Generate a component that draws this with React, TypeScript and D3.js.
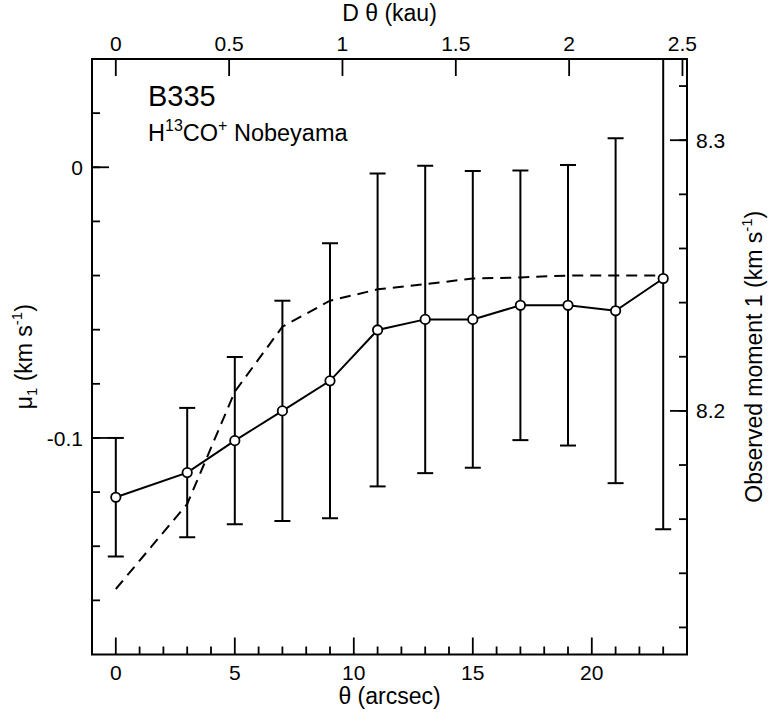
import React from 'react';
import * as d3 from 'd3';

// offsets from the B335 centre (arcsec)
const theta = [0, 3, 5, 7, 9, 11, 13, 15, 17, 19, 21, 23];
// observed mu_1 (km/s) and its error
const mu1 = [-0.1219, -0.1128, -0.101, -0.09, -0.0789, -0.0601, -0.0562, -0.0562, -0.051, -0.051, -0.053, -0.0411];
const mu1Err = [0.0219, 0.0239, 0.0309, 0.0407, 0.0508, 0.0578, 0.0568, 0.0548, 0.0498, 0.0518, 0.0637, 0.0926];
// model curve (dashed)
const model = [-0.1558, -0.1244, -0.0829, -0.0589, -0.0493, -0.0451, -0.0432, -0.0411, -0.0407, -0.04, -0.04, -0.04];

const distPc = 105; // kau per arcsec = distPc / 1000
const vOffset = 8.29; // observed moment 1 = mu_1 + offset

const xMajor = [0, 5, 10, 15, 20];
const xMinor = d3.range(0, 24);
const kauTicks = [0, 0.5, 1, 1.5, 2, 2.5];
const kauLabels = ['0', '0.5', '1', '1.5', '2', '2.5'];
const yMajor = [0, -0.1];
const yLabels = ['0', '-0.1'];
const yMinor = d3.range(-8, 2).map(i => i * 0.02);
const rMajor = [8.2, 8.3];
const rLabels = ['8.2', '8.3'];
const rMinor = d3.range(1, 12).map(i => 8.1 + i * 0.02);

const W = 770;
const H = 714;
const m = { left: 92, right: 687, top: 59, bottom: 654.5 };
const font = '"Liberation Sans", Arial, Helvetica, sans-serif';

export default function App() {
  const x = d3.scaleLinear().domain([-1, 24]).range([m.left, m.right]);
  const xTop = d3.scaleLinear().domain([-1 * distPc / 1000, 24 * distPc / 1000]).range([m.left, m.right]);
  const y = d3.scaleLinear().domain([-0.18, 0.04]).range([m.bottom, m.top]);
  const yR = d3.scaleLinear().domain([-0.18 + vOffset, 0.04 + vOffset]).range([m.bottom, m.top]);

  const pts = theta.map((t, i) => ({ t, v: mu1[i], e: mu1Err[i], mdl: model[i] }));
  const obsLine = d3.line<any>().x(d => x(d.t)).y(d => y(d.v));
  const mdlLine = d3.line<any>().x(d => x(d.t)).y(d => y(d.mdl));

  const big = 17;
  const small = 8;
  const cx = (m.left + m.right) / 2;
  const cy = (m.top + m.bottom) / 2;

  return (
    <svg width={W} height={H} style={{ position: 'absolute', left: 0, top: 0, background: '#fff' }}
      fontFamily={font}>
      <defs>
        <clipPath id="plot">
          <rect x={m.left} y={m.top} width={m.right - m.left} height={m.bottom - m.top} />
        </clipPath>
      </defs>

      {/* ticks */}
      <g stroke="#000" strokeWidth={1.8}>
        {xMinor.map(t => (
          <line key={'xm' + t} x1={x(t)} x2={x(t)} y1={m.bottom} y2={m.bottom - (xMajor.includes(t) ? big : small)} />
        ))}
        {kauTicks.map(k => (
          <line key={'k' + k} x1={xTop(k)} x2={xTop(k)} y1={m.top} y2={m.top + big} />
        ))}
        {yMinor.map(v => (
          <line key={'ym' + v} x1={m.left} x2={m.left + small} y1={y(v)} y2={y(v)} />
        ))}
        {yMajor.map(v => (
          <line key={'yM' + v} x1={m.left} x2={m.left + big} y1={y(v)} y2={y(v)} />
        ))}
        {rMinor.map(v => (
          <line key={'rm' + v} x1={m.right} x2={m.right - small} y1={yR(v)} y2={yR(v)} />
        ))}
        {rMajor.map(v => (
          <line key={'rM' + v} x1={m.right} x2={m.right - big} y1={yR(v)} y2={yR(v)} />
        ))}
      </g>

      {/* tick labels */}
      <g fontSize={21} fill="#000">
        {xMajor.map(t => (
          <text key={'xl' + t} x={x(t)} y={680} textAnchor="middle">{t}</text>
        ))}
        {kauTicks.map((k, i) => (
          <text key={'kl' + k} x={xTop(k)} y={51} textAnchor="middle">{kauLabels[i]}</text>
        ))}
        {yMajor.map((v, i) => (
          <text key={'yl' + v} x={m.left - 9} y={y(v)} dy="0.36em" textAnchor="end">{yLabels[i]}</text>
        ))}
        {rMajor.map((v, i) => (
          <text key={'rl' + v} x={m.right + 9} y={yR(v)} dy="0.36em" textAnchor="start">{rLabels[i]}</text>
        ))}
      </g>

      {/* data */}
      <g clipPath="url(#plot)">
        <path d={mdlLine(pts) || ''} fill="none" stroke="#000" strokeWidth={2} strokeDasharray="11,7" />
        <path d={obsLine(pts) || ''} fill="none" stroke="#000" strokeWidth={2} />
        {pts.map(p => (
          <g key={'e' + p.t} stroke="#000" strokeWidth={2}>
            <line x1={x(p.t)} x2={x(p.t)} y1={y(p.v + p.e)} y2={y(p.v - p.e)} />
            <line x1={x(p.t) - 8} x2={x(p.t) + 8} y1={y(p.v + p.e)} y2={y(p.v + p.e)} />
            <line x1={x(p.t) - 8} x2={x(p.t) + 8} y1={y(p.v - p.e)} y2={y(p.v - p.e)} />
          </g>
        ))}
        {pts.map(p => (
          <circle key={'c' + p.t} cx={x(p.t)} cy={y(p.v)} r={4.7} fill="#fff" stroke="#000" strokeWidth={1.8} />
        ))}
      </g>

      {/* frame */}
      <rect x={m.left} y={m.top} width={m.right - m.left} height={m.bottom - m.top}
        fill="none" stroke="#000" strokeWidth={2} />

      {/* annotations */}
      <text x={148} y={106} fontSize={29}>B335</text>
      <text x={148} y={141} fontSize={23.5}>
        H<tspan fontSize={16} dy={-10}>13</tspan><tspan dy={10}>CO</tspan>
        <tspan fontSize={16} dy={-10}>+</tspan><tspan dy={10}> Nobeyama</tspan>
      </text>

      {/* axis titles */}
      <text x={cx} y={21} fontSize={23} textAnchor="middle">D θ (kau)</text>
      <text x={cx} y={704} fontSize={23} textAnchor="middle">θ (arcsec)</text>
      <text transform={`translate(32,${cy}) rotate(-90)`} fontSize={23} textAnchor="middle">
        μ<tspan fontSize={15} dy={5}>1</tspan><tspan dy={-5}> (km s</tspan>
        <tspan fontSize={15} dy={-10}>-1</tspan><tspan dy={10}>)</tspan>
      </text>
      <text transform={`translate(762,${cy}) rotate(-90)`} fontSize={23} textAnchor="middle">
        Observed moment 1 (km s<tspan fontSize={15} dy={-10}>-1</tspan><tspan dy={10}>)</tspan>
      </text>
    </svg>
  );
}
